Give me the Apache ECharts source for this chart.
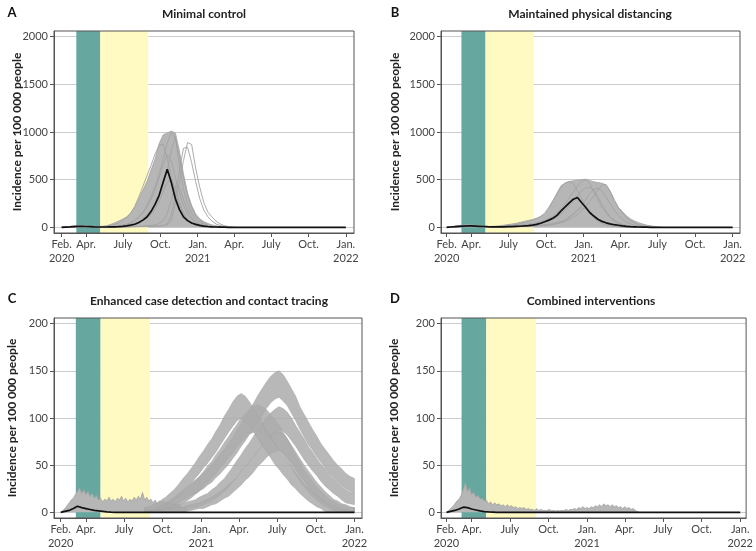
<!DOCTYPE html>
<html lang="en">
<head>
  <meta charset="UTF-8">
  <title>Incidence scenarios</title>
  <style>
    html, body { margin: 0; padding: 0; background: #fff; }
    #main { width: 756px; height: 551px; }
  </style>
</head>
<body>
  <div id="main"></div>
  <script src="https://cdn.jsdelivr.net/npm/echarts@6/dist/echarts.min.js"></script>
  <script>
    // x values are days since 1 Feb 2020
    const xTicks = [0, 60, 151, 243, 335, 425, 516, 608, 700]
    const xLabels = ['Feb.\n2020', 'Apr.', 'July', 'Oct.', 'Jan.\n2021', 'Apr.', 'July', 'Oct.', 'Jan.\n2022']
    const yTicksTop = [0, 500, 1000, 1500, 2000]
    const yTicksBottom = [0, 50, 100, 150, 200]
    const titles = ['Minimal control', 'Maintained physical distancing', 'Enhanced case detection and contact tracing', 'Combined interventions']
    const letters = ['A', 'B', 'C', 'D']
    const yName = 'Incidence per 100 000 people'
    const tealPeriod = [36, 95]
    const yellowPeriod = [95, 213]

    // sampling grids
    const days = []
    for (let d = 0; d <= 700; d += 10) days.push(d)
    const days5 = []
    for (let d = 0; d <= 460; d += 5) days5.push(d)
    const lateDays = []
    for (let d = 200; d <= 700; d += 10) lateDays.push(d)

    // ---- A: minimal control ----
    const aMedian = [0,2,4,7,9,10,8,6,4,3, 3,3,4,5,7,10,14,22,32,50,
      75,108,165,240,335,474,610,470,300,185, 110,70,45,30,20,13,8,5,3,2,
      1,0,0,0,0,0,0,0,0,0, 0,0,0,0,0,0,0,0,0,0, 0,0,0,0,0,0,0,0,0,0, 0]
    const aCloud = [0,4,8,14,18,18,15,12,9,8, 10,15,30,45,65,85,110,150,210,300,
      390,480,600,720,880,970,990,1010,990,800, 560,360,230,140,90,60,40,25,15,8, 3,0]
    const aRuns = [
      [0,2,4,6,8,8,6,5,4,3, 3,3,3,3,4,4,5,6,7,8, 9,10,11,12,14,16,25,74,250,480, 700,890,870,620,420,260,160,108,65,35, 18,8,2,0],
      [0,1,3,5,6,6,5,4,3,2, 2,2,2,3,3,4,4,5,6,7, 8,9,10,12,14,18,40,130,330,600, 830,840,680,480,300,180,110,65,35,18, 8,3,0],
      [0,1,2,4,5,5,4,3,2,2, 2,3,3,4,5,6,7,8,9,10, 12,14,18,25,40,70,140,290,440,420, 290,180,105,60,32,16,8,4,2,1, 0],
      [0,2,4,6,8,8,7,5,4,3, 3,4,5,7,10,14,20,28,40,55, 75,100,135,190,270,380,470,500,410,270, 150,80,40,20,10,5,2,1,0],
      [0,3,7,11,14,14,12,10,8,7, 8,12,20,30,45,70,100,150,220,320, 430,540,650,770,860,870,720,530,360,230, 140,85,50,28,15,8,4,2,1,0],
      [0,2,5,8,10,10,9,7,6,5, 5,6,8,10,14,20,30,45,70,110, 160,230,320,430,560,720,880,1000,930,740, 520,340,210,125,75,42,22,11,5,2, 0],
      [0,2,4,6,8,8,7,6,5,4, 4,5,7,10,15,22,32,48,72,105, 150,210,290,390,520,660,760,690,520,360, 230,140,85,50,28,15,8,4,2,1, 0],
      [0,1,3,5,6,6,5,4,3,3, 3,3,4,5,7,10,14,20,30,45, 90,130,180,250,340,450,600,800,950,640, 400,250,150,90,55,32,18,10,5,2, 1,0]
    ]

    // ---- B: maintained physical distancing ----
    const bMedian = [0,3,6,10,13,15,14,12,10,8, 6,5,5,5,5,6,7,9,11,14,
      18,23,30,42,58,75,95,125,172,215, 255,295,312,260,210,155,118,84,62,47,
      36,27,21,15,10,7,5,3,2,1, 0,0,0,0,0,0,0,0,0,0, 0,0,0,0,0,0,0,0,0,0, 0]
    const bCloud = [0,6,12,18,24,28,25,20,15,11, 8,9,12,16,22,28,35,42,52,62,
      72,82,95,112,137,200,275,360,436,465, 480,488,495,500,505,492,478,470,462,445,
      380,285,210,165,120,88,65,48,34,22, 15,8,3,0]
    const bRuns = [
      [0,3,7,12,16,18,16,13,10,8, 7,7,8,10,13,17,22,29,38,48, 60,75,90,115,150,210,280,350,420,465, 480,455,380,300,220,150,100,65,40,25, 15,8,4,2,1,0],
      [0,2,5,8,11,12,11,9,7,6, 5,5,5,5,6,6,7,8,9,10, 12,14,16,18,20,24,30,38,48,62, 80,105,135,170,215,270,330,390,440,450, 380,290,210,150,100,70,45,28,16,8, 3,1,0],
      [0,2,4,7,9,10,9,7,6,5, 4,4,4,4,5,5,6,7,8,9, 11,13,15,18,21,25,30,40,52,70, 100,135,175,205,195,165,125,90,62,42, 28,18,11,6,3,1,0],
      [0,3,6,9,12,13,12,10,8,6, 5,5,6,7,8,10,12,14,17,20, 24,28,34,42,52,66,85,110,140,180, 225,280,335,380,410,420,390,320,240,170, 115,75,48,30,18,10,5,2,1,0],
      [0,2,5,8,10,11,10,8,7,6, 5,6,7,8,10,12,15,18,22,27, 33,40,48,58,72,90,115,150,195,250, 310,370,430,480,500,460,380,290,210,150, 100,65,40,25,15,8,4,2,1,0],
      [0,2,4,6,8,9,8,7,6,5, 4,4,5,5,6,7,8,9,10,12, 14,16,19,22,27,33,40,50,62,78, 110,140,180,230,290,350,400,410,380,320, 250,180,125,85,55,35,22,12,6,3, 1,0]
    ]

    // ---- C: enhanced case detection and contact tracing ----
    const cMedian = [0,1,2,4,6.5,5,4,3,2,1.5, 1,0.5,0.2,0,0,0,0,0,0,0,
      0,0,0,0,0,0,0,0,0,0, 0,0,0,0,0,0,0,0,0,0, 0,0,0,0,0,0,0,0,0,0,
      0,0,0,0,0,0,0,0,0,0, 0,0,0,0,0,0,0,0,0,0, 0]
    // early noisy cloud, 5-day steps from day 0 to 300
    const cEarly = [0,2,4,7,10,13,15,19,22,26, 20,24,19,22,17,20,15,18,13,15,
      11,14,12,16,12,14,11,15,13,17, 12,15,11,14,12,16,13,17,14,21,
      13,16,12,14,10,13,9,12,10,12, 9,11,8,10,7,9,6,7,5,5, 4]
    // later trajectories: centre and noise half-width, 10-day steps from day 200 to 700
    const cTrajMid = [
      [1,2,2,3,4,5,7,9,12,15, 18,22,26,30,35,40,45,51,57,63, 69,75,81,87,92,96,99,100,98,95, 91,86,80,73,66,58,50,43,36,30, 25,20,16,12,9,7,5,4,3,2, 2],
      [1,2,3,4,5,7,9,12,15,18, 21,24,27,30,33,37,41,46,51,56, 62,68,75,82,89,96,103,110,117,124, 130,134,136,132,126,118,110,100,92,84, 77,70,63,57,51,46,41,37,33,30, 28],
      [0,1,1,2,2,3,3,4,5,6, 7,8,9,11,13,15,18,21,25,29, 34,40,46,52,58,64,70,76,82,88, 93,97,100,98,94,88,81,74,67,60, 54,48,42,37,32,28,24,20,17,15, 14],
      [0,0,1,1,1,2,2,2,3,3, 4,5,6,7,8,10,12,14,17,20, 23,27,31,36,41,46,51,57,62,67, 71,74,76,73,68,62,55,48,42,36, 30,25,20,16,12,9,7,5,4,3, 2],
      [3,4,5,7,9,12,15,19,23,28, 33,38,44,50,56,62,68,75,82,90, 97,104,110,113,110,104,97,90,83,76, 69,62,56,50,44,38,33,28,23,19, 15,12,9,6,4,3,2,1,1,0, 0]
    ]
    const cTrajSpread = [
      [2,2,2,3,3,3,4,4,5,6, 6,7,7,8,8,9,9,10,10,11, 11,12,12,13,13,13,14,14,14,14, 13,13,13,12,12,11,11,10,9,9, 8,7,7,6,5,5,4,4,3,3, 3],
      [2,2,2,3,3,3,4,4,5,5, 6,6,7,7,8,8,9,9,10,10, 11,11,12,12,13,13,13,14,14,14, 14,14,14,14,13,13,13,12,12,12, 11,11,10,10,10,9,9,9,8,8, 8],
      [1,1,1,2,2,2,2,3,3,3, 4,4,4,5,5,5,6,6,7,7, 8,8,9,9,10,10,11,11,11,12, 12,12,12,12,12,12,11,11,11,10, 10,9,9,9,8,8,7,7,7,6, 6],
      [1,1,1,1,1,2,2,2,2,2, 3,3,3,3,4,4,4,5,5,5, 6,6,6,7,7,8,8,8,9,9, 9,10,10,10,10,9,9,9,8,8, 8,7,7,6,6,5,5,4,4,3, 3],
      [2,2,3,3,4,4,5,5,6,7, 7,8,8,9,9,10,10,11,11,12, 12,13,13,13,13,13,12,12,12,11, 11,11,10,10,9,9,8,8,7,7, 6,6,5,5,4,3,3,2,2,1, 1]
    ]

    // ---- D: combined interventions ----
    const dMedian = [0,1,2,3.5,5.5,5,3.5,2.5,1.5,0.8, 0.4,0.2,0,0,0,0,0,0,0,0,
      0,0,0,0,0,0,0,0,0,0, 0,0,0,0,0,0,0,0,0,0, 0,0,0,0,0,0,0,0,0,0,
      0,0,0,0,0,0,0,0,0,0, 0,0,0,0,0,0,0,0,0,0, 0]
    // noisy cloud, 5-day steps from day 0 to 460
    const dCloud = [0,2,4,6,9,12,14,18,24,31, 22,26,19,21,16,18,14,15,12,13,
      9,11,8,10,8,9,7,8,6,8, 6,7,5,6,4,5,4,5,3,4,
      3,3,2,4,2,3,2,2,2,3, 2,2,1.5,2,1.5,2,2,3,2,3,
      3,4,3,5,4,6,4,5,4,6, 5,7,6,8,6,9,7,8,6,8,
      6,7,5,6,4,6,4,5,3,4, 2,1,0]

    const FONT = 'Lato, "Noto Sans", sans-serif'
    const TEAL = '#66a8a0'
    const YELLOW = '#fff9c2'
    const GREY_FILL = '#b6b6b6'
    const GREY_LINE = '#a3a3a3'

    var myChart = echarts.init(document.getElementById('main'))

    const grids = [
      { left: 54, top: 31, width: 300, height: 202 },
      { left: 441, top: 31, width: 299, height: 202 },
      { left: 54, top: 318, width: 308, height: 200 },
      { left: 441, top: 318, width: 306, height: 200 }
    ]
    const xRanges = [[-19, 720], [-14, 718], [-16, 718], [-13, 714]]
    const yRanges = [[-60, 2060], [-60, 2060], [-6, 206], [-6, 206]]
    const yTickSets = [yTicksTop, yTicksTop, yTicksBottom, yTicksBottom]

    const pts = (xs, ys) => ys.map((y, i) => [xs[i], y])

    function line(g, xs, ys, color, width, z) {
      return {
        type: 'line', xAxisIndex: g, yAxisIndex: g, data: pts(xs, ys),
        symbol: 'none', silent: true, z: z, lineStyle: { color: color, width: width }
      }
    }

    function area(g, xs, ys, color, z) {
      return {
        type: 'line', xAxisIndex: g, yAxisIndex: g, data: pts(xs, ys),
        symbol: 'none', silent: true, z: z,
        lineStyle: { color: GREY_LINE, width: 0.8 },
        areaStyle: { color: color, opacity: 1 }
      }
    }

    // one noisy trajectory drawn as a polygon between centre-spread and centre+spread
    function band(g, xs, mid, spread) {
      const lo = mid.map((m, i) => Math.max(0, m - spread[i]))
      const hi = mid.map((m, i) => m + spread[i])
      return {
        type: 'custom', xAxisIndex: g, yAxisIndex: g, silent: true, z: 2,
        data: [[xs[0], 0]],
        renderItem: function (params, api) {
          const upper = xs.map((x, i) => api.coord([x, hi[i]]))
          const lower = xs.map((x, i) => api.coord([x, lo[i]])).reverse()
          return {
            type: 'polygon',
            shape: { points: upper.concat(lower) },
            style: { fill: '#ababab', opacity: 0.85, stroke: GREY_LINE, lineWidth: 0.6 }
          }
        }
      }
    }

    // gridlines + shaded periods, drawn under the data
    function backdrop(g) {
      return [
        { type: 'line', xAxisIndex: g, yAxisIndex: g, data: [[0, 0]], symbol: 'none', silent: true, z: 0,
          lineStyle: { opacity: 0 },
          markLine: { silent: true, z: 0, symbol: 'none', label: { show: false },
            lineStyle: { color: '#cccccc', width: 1, type: 'solid' },
            data: yTickSets[g].map(v => ({ yAxis: v })) } },
        { type: 'line', xAxisIndex: g, yAxisIndex: g, data: [[0, 0]], symbol: 'none', silent: true, z: 1,
          lineStyle: { opacity: 0 },
          markArea: { silent: true, z: 1, data: [
            [{ xAxis: tealPeriod[0], itemStyle: { color: TEAL } }, { xAxis: tealPeriod[1] }],
            [{ xAxis: yellowPeriod[0], itemStyle: { color: YELLOW } }, { xAxis: yellowPeriod[1] }]
          ] } }
      ]
    }

    let series = []
    for (let g = 0; g < 4; g++) series = series.concat(backdrop(g))

    // A
    series.push(area(0, days, aCloud, GREY_FILL, 2))
    aRuns.forEach(r => series.push(line(0, days, r, GREY_LINE, 0.9, 3)))
    series.push(line(0, days, aMedian, '#111', 1.7, 5))
    // B
    series.push(area(1, days, bCloud, GREY_FILL, 2))
    bRuns.forEach(r => series.push(line(1, days, r, GREY_LINE, 0.9, 3)))
    series.push(line(1, days, bMedian, '#111', 1.7, 5))
    // C
    series.push(area(2, days5, cEarly, GREY_FILL, 2))
    cTrajMid.forEach((m, i) => series.push(band(2, lateDays, m, cTrajSpread[i])))
    series.push(line(2, days, cMedian, '#111', 1.7, 5))
    // D
    series.push(area(3, days5, dCloud, GREY_FILL, 2))
    series.push(line(3, days, dMedian, '#111', 1.7, 5))

    const texts = []
    const letterPos = [[12, 13], [395, 13], [12, 299], [395, 299]]
    const titlePos = [[204, 14], [590, 14], [209, 301], [591, 301]]
    const namePos = [[17, 132], [395, 132], [12, 418], [394, 418]]
    for (let g = 0; g < 4; g++) {
      texts.push({ type: 'text', x: letterPos[g][0], y: letterPos[g][1], z: 20,
        style: { text: letters[g], font: 'bold 13px ' + FONT, fill: '#111', textAlign: 'center', textVerticalAlign: 'middle' } })
      texts.push({ type: 'text', x: titlePos[g][0], y: titlePos[g][1], z: 20,
        style: { text: titles[g], font: 'bold 12px ' + FONT, fill: '#222', textAlign: 'center', textVerticalAlign: 'middle' } })
      texts.push({ type: 'text', x: namePos[g][0], y: namePos[g][1], z: 20, rotation: Math.PI / 2,
        style: { text: yName, font: 'bold 12px ' + FONT, fill: '#222', textAlign: 'center', textVerticalAlign: 'middle' } })
    }

    var option = {
      animation: false,
      backgroundColor: '#fff',
      grid: grids.map(gr => Object.assign({ show: true, borderColor: '#555', borderWidth: 1, z: 10 }, gr)),
      xAxis: grids.map((gr, g) => ({
        gridIndex: g, type: 'value', min: xRanges[g][0], max: xRanges[g][1], z: 10,
        axisLine: { show: true, onZero: false, lineStyle: { color: '#555' } },
        axisTick: { show: true, length: 4, customValues: xTicks, lineStyle: { color: '#555' } },
        axisLabel: {
          customValues: xTicks, margin: 4, fontSize: 11, lineHeight: 14, color: '#444', fontFamily: FONT,
          formatter: v => { const i = xTicks.indexOf(v); return i >= 0 ? xLabels[i] : '' }
        },
        splitLine: { show: false }
      })),
      yAxis: grids.map((gr, g) => ({
        gridIndex: g, type: 'value', min: yRanges[g][0], max: yRanges[g][1], z: 10,
        axisLine: { show: true, onZero: false, lineStyle: { color: '#555' } },
        axisTick: { show: true, length: 4, customValues: yTickSets[g], lineStyle: { color: '#555' } },
        axisLabel: { customValues: yTickSets[g], margin: 6, fontSize: 11, color: '#444', fontFamily: FONT,
          formatter: v => String(v) },
        splitLine: { show: false }
      })),
      graphic: texts,
      series: series
    }

    myChart.setOption(option)
  </script>
</body>
</html>
